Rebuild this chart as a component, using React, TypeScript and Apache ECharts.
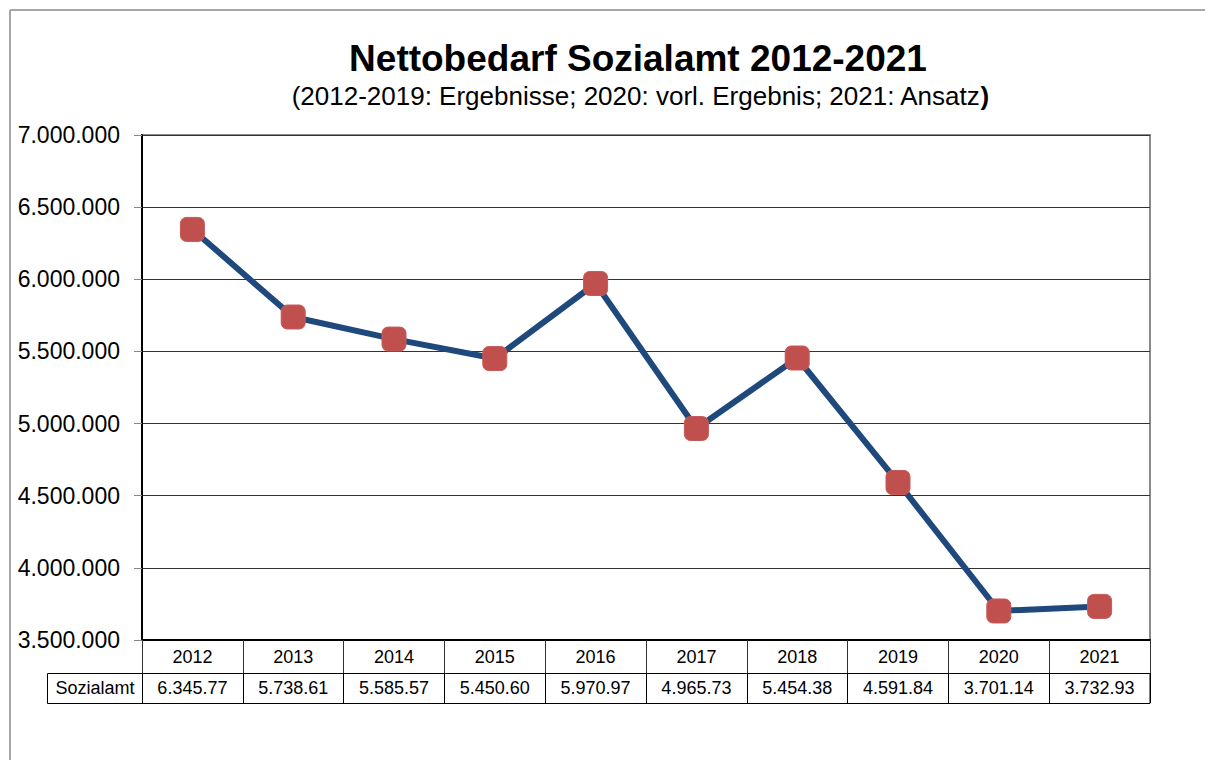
import React, { useEffect, useRef } from "react";
import * as echarts from "echarts";

const years = ["2012", "2013", "2014", "2015", "2016", "2017", "2018", "2019", "2020", "2021"];
const sozialamt = [6345770, 5738610, 5585570, 5450600, 5970970, 4965730, 5454380, 4591840, 3701140, 3732930];
const tableLabels = ["6.345.77", "5.738.61", "5.585.57", "5.450.60", "5.970.97", "4.965.73", "5.454.38", "4.591.84", "3.701.14", "3.732.93"];
const seriesName = "Sozialamt";
const titleText = "Nettobedarf Sozialamt 2012-2021";
const subtitleText = "(2012-2019: Ergebnisse; 2020: vorl. Ergebnis; 2021: Ansatz{b|)}";

const FONT = "'Liberation Sans', Arial, sans-serif";

function dotFormat(v: number): string {
  return String(Math.round(v)).replace(/\B(?=(\d{3})+(?!\d))/g, ".");
}

export default function App() {
  const ref = useRef<HTMLDivElement>(null);
  useEffect(() => {
    if (!ref.current) return;
    const chart = echarts.init(ref.current, null, { renderer: "svg" });
    chart.setOption({
      animation: false,
      backgroundColor: "#ffffff",
      grid: {
        left: 142,
        right: 55,
        top: 135,
        bottom: 120,
        show: true,
        borderColor: "#8c8c8c",
        borderWidth: 2,
        backgroundColor: "transparent",
      },
      xAxis: [
        {
          type: "category",
          data: years,
          position: "bottom",
          boundaryGap: true,
          axisLine: { show: true, lineStyle: { color: "#000", width: 2 } },
          axisTick: { show: true, length: 33, lineStyle: { color: "#333", width: 1 } },
          axisLabel: { color: "#000", fontSize: 18, fontFamily: FONT, margin: 8 },
          splitLine: { show: false },
        },
        {
          type: "category",
          data: tableLabels,
          position: "bottom",
          offset: 33,
          boundaryGap: true,
          axisLine: { show: true, lineStyle: { color: "#000", width: 1 } },
          axisTick: { show: true, length: 30, lineStyle: { color: "#000", width: 1 } },
          axisLabel: { color: "#000", fontSize: 18, fontFamily: FONT, margin: 6 },
          splitLine: { show: false },
        },
      ],
      yAxis: {
        type: "value",
        min: 3500000,
        max: 7000000,
        interval: 500000,
        axisLine: { show: true, lineStyle: { color: "#000", width: 2 } },
        axisTick: { show: true, length: 8, lineStyle: { color: "#888" } },
        axisLabel: {
          color: "#000",
          fontSize: 23,
          fontFamily: FONT,
          margin: 22,
          formatter: (v: number) => dotFormat(v),
        },
        splitLine: { show: true, lineStyle: { color: "#333", width: 1 } },
      },
      series: [
        {
          name: seriesName,
          type: "line",
          xAxisIndex: 0,
          data: sozialamt,
          symbol: "roundRect",
          symbolSize: 24,
          lineStyle: { color: "#1f497d", width: 6 },
          itemStyle: { color: "#c0504d", borderColor: "#c55a57", borderWidth: 1 },
          z: 5,
        },
      ],
      graphic: [
        {
          type: "line",
          shape: { x1: 10, y1: 10, x2: 1205, y2: 10 },
          style: { stroke: "#a6a6a6", lineWidth: 2 },
        },
        {
          type: "line",
          shape: { x1: 10, y1: 10, x2: 10, y2: 760 },
          style: { stroke: "#a6a6a6", lineWidth: 2 },
        },
        {
          type: "rect",
          shape: { x: 47.5, y: 673.5, width: 1102.5, height: 30 },
          style: { fill: "transparent", stroke: "#000", lineWidth: 1 },
          z: 10,
        },
        {
          type: "text",
          x: 95,
          y: 688,
          style: {
            text: seriesName,
            fontSize: 18,
            fontFamily: FONT,
            fill: "#000",
            align: "center",
            verticalAlign: "middle",
          },
        },
        {
          type: "text",
          x: 638,
          y: 58,
          style: {
            text: titleText,
            fontSize: 37,
            fontWeight: "bold",
            fontFamily: FONT,
            fill: "#000",
            align: "center",
            verticalAlign: "middle",
          },
        },
        {
          type: "text",
          x: 640,
          y: 96,
          style: {
            text: subtitleText,
            fontSize: 26,
            fontFamily: FONT,
            fill: "#000",
            align: "center",
            verticalAlign: "middle",
            rich: {
              b: { fontSize: 26, fontWeight: "bold", fontFamily: FONT, fill: "#000" },
            },
          },
        },
      ],
    });
    return () => chart.dispose();
  }, []);
  return (
    <div
      ref={ref}
      style={{ position: "fixed", left: 0, top: 0, width: 1205, height: 760, background: "#fff" }}
    />
  );
}
